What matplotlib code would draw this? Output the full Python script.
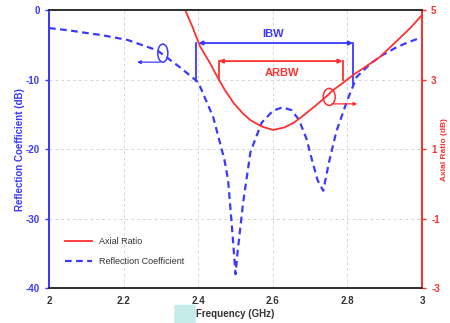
import matplotlib
matplotlib.use('Agg')
import matplotlib.pyplot as plt
from matplotlib.patches import Ellipse, FancyBboxPatch

plt.rcParams['font.family'] = ['Liberation Sans', 'DejaVu Sans']
plt.rcParams['axes.unicode_minus'] = False

# reflection coefficient (dB), left axis
rc_freq = [2.00, 2.05, 2.10, 2.14, 2.21, 2.29, 2.35, 2.40, 2.44, 2.47, 2.48, 2.49,
           2.50, 2.505, 2.52, 2.54, 2.57, 2.60, 2.625, 2.65, 2.67, 2.69, 2.705, 2.72,
           2.735, 2.75, 2.77, 2.80, 2.825, 2.86, 2.89, 2.93, 2.96, 3.00]
rc_db = [-2.6, -2.9, -3.3, -3.6, -4.3, -5.8, -8.2, -10.4, -15.4, -21.5, -24.5, -31.0,
         -38.0, -35.0, -27.8, -20.4, -16.2, -14.5, -14.0, -14.4, -15.8, -18.5, -21.6, -24.5,
         -26.0, -22.0, -17.5, -12.9, -9.6, -7.8, -6.6, -5.4, -4.7, -3.9]

# axial ratio (dB), right axis
ar_freq = [2.365, 2.385, 2.405, 2.43, 2.45, 2.47, 2.495, 2.52, 2.54, 2.57, 2.60, 2.63,
           2.655, 2.68, 2.71, 2.74, 2.762, 2.79, 2.815, 2.85, 2.887, 2.94, 2.97, 3.00]
ar_db = [5.0, 4.5, 3.95, 3.5, 3.1, 2.72, 2.32, 2.02, 1.83, 1.65, 1.55, 1.62,
         1.75, 1.95, 2.21, 2.48, 2.70, 2.92, 3.13, 3.38, 3.65, 4.19, 4.5, 4.86]

ibw = (2.40, 2.815)
arbw = (2.455, 2.787)

x_ticks = [2, 2.2, 2.4, 2.6, 2.8, 3]
x_labels = ['2', '2.2', '2.4', '2.6', '2.8', '3']
left_ticks = [0, -10, -20, -30, -40]
right_ticks = [-3, -1, 1, 3, 5]

blue = '#3a3aff'
red = '#ff3030'
dark = '#333333'

fig = plt.figure(figsize=(4.5, 3.23), dpi=100)
ax = fig.add_axes([0.109, 0.108, 0.829, 0.861])
ax2 = ax.twinx()

ax.plot(rc_freq, rc_db, color=blue, linestyle=(0, (3, 2)), linewidth=1.6)
ax2.plot(ar_freq, ar_db, color=red, linewidth=1.3)

# legend handles
ax.plot([], [], color=red, linewidth=1.3, label='Axial Ratio')
ax.plot([], [], color=blue, linestyle=(0, (3, 2)), linewidth=1.6, label='Reflection Coefficient')
leg = ax.legend(loc='lower left', bbox_to_anchor=(0.02, 0.05), frameon=False,
                fontsize=6.5, handlelength=3.0, labelspacing=1.2)
for t in leg.get_texts():
    t.set_color(dark)

ax.set_xlim(2, 3)
ax.set_ylim(-40, 0)
ax2.set_ylim(-3, 5)
ax.set_xticks(x_ticks)
ax.set_xticklabels(x_labels)
ax.set_yticks(left_ticks)
ax2.set_yticks(right_ticks)

ax.grid(True, color='#d6d6d6', linestyle=(0, (3, 3)), linewidth=0.7)

for lbl in ax.get_xticklabels():
    lbl.set_fontweight('bold')
for lbl in ax.get_yticklabels():
    lbl.set_fontweight('bold')
for lbl in ax2.get_yticklabels():
    lbl.set_fontweight('bold')

ax.tick_params(axis='x', length=0, pad=6, labelsize=7, colors=dark)
ax.tick_params(axis='y', length=3, width=1, labelsize=7, colors=blue)
ax2.tick_params(axis='y', length=3, width=1, labelsize=7, colors=red)

for a in (ax, ax2):
    a.spines['top'].set_color(dark)
    a.spines['bottom'].set_color(dark)
    a.spines['left'].set_color(blue)
    a.spines['right'].set_color(red)
    for s in a.spines.values():
        s.set_linewidth(1.4)

ax.set_xlabel('Frequency (GHz)', fontsize=7, fontweight='bold', color=dark, labelpad=2)
ax.set_ylabel('Reflection Coefficient (dB)', fontsize=7, fontweight='bold', color=blue, labelpad=1)
ax2.set_ylabel('Axial Ratio (dB)', fontsize=6, fontweight='bold', color=red,
               rotation=90, va='center', ha='center')
ax2.yaxis.set_label_coords(1.06, 0.5)

# IBW bracket
ax.annotate('', xy=(ibw[0], -4.75), xytext=(ibw[1], -4.75),
            arrowprops=dict(arrowstyle='<|-|>', color=blue, lw=1.3, mutation_scale=6,
                            shrinkA=0, shrinkB=0))
ax.plot([ibw[0] - 0.005, ibw[0] - 0.005], [-4.75, -10.2], color=blue, lw=1.3)
ax.plot([ibw[1], ibw[1]], [-4.75, -10.8], color=blue, lw=1.3)
ax.text(2.6, -4.1, 'IBW', color=blue, fontsize=8, fontweight='bold', ha='center', va='bottom')

# ARBW bracket
ax.annotate('', xy=(arbw[0], -7.35), xytext=(arbw[1], -7.35),
            arrowprops=dict(arrowstyle='<|-|>', color=red, lw=1.3, mutation_scale=6,
                            shrinkA=0, shrinkB=0))
ax.plot([arbw[0], arbw[0]], [-7.35, -10.1], color=red, lw=1.3)
ax.plot([arbw[1], arbw[1]], [-7.35, -10.1], color=red, lw=1.3)
ax.text(2.625, -9.0, 'ARBW', color=red, fontsize=8, fontweight='bold', ha='center', va='center')

# curve markers
ax.add_patch(Ellipse((2.305, -6.2), 0.027, 2.6, fill=False, edgecolor=blue, lw=1.1, zorder=5))
ax.annotate('', xy=(2.236, -7.5), xytext=(2.298, -7.5),
            arrowprops=dict(arrowstyle='-|>', color=blue, lw=0.9, mutation_scale=5,
                            shrinkA=0, shrinkB=0))
ax.add_patch(Ellipse((2.751, -12.5), 0.032, 2.45, fill=False, edgecolor=red, lw=1.1, zorder=5))
ax.annotate('', xy=(2.826, -13.5), xytext=(2.758, -13.5),
            arrowprops=dict(arrowstyle='-|>', color=red, lw=0.9, mutation_scale=5,
                            shrinkA=0, shrinkB=0))

# faint highlight behind the x label
fig.patches.append(FancyBboxPatch((176 / 450, 0.0), 18 / 450, 17 / 323,
                                  boxstyle='round,pad=0.004', transform=fig.transFigure,
                                  facecolor='#c6ecea', edgecolor='none', zorder=0))

fig.savefig('out.png', dpi=100)
